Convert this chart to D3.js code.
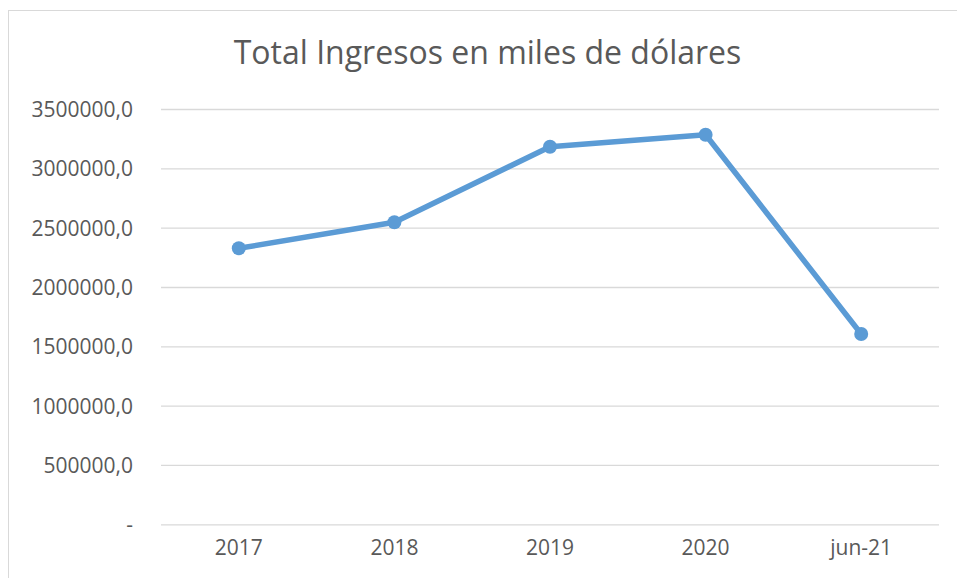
<!DOCTYPE html>
<html>
<head>
<meta charset="utf-8">
<script src="https://cdn.jsdelivr.net/npm/d3@7"></script>
<style>
  html, body { margin: 0; padding: 0; background: #fff; }
  svg { display: block; }
</style>
</head>
<body>
<svg id="chart" width="957" height="578"></svg>
<script>
const categories = ["2017", "2018", "2019", "2020", "jun-21"];
const values = [2326000, 2545000, 3182000, 3283000, 1604000];
const yTicks = [0, 500000, 1000000, 1500000, 2000000, 2500000, 3000000, 3500000];
const title = "Total Ingresos en miles de dólares";

const svg = d3.select("#chart");
const W = 957, H = 578;
const margin = { left: 161, right: 18, top: 109, bottom: 53.7 };
const fontFam = "'Open Sans', 'Noto Sans', sans-serif";
const textColor = "#595959";

// outer border
svg.append("rect")
  .attr("x", 8.5).attr("y", 10.5)
  .attr("width", W - 8.5 + 5).attr("height", H)
  .attr("fill", "#fff").attr("stroke", "#d9d9d9").attr("stroke-width", 1);

const x = d3.scaleBand().domain(categories).range([margin.left, W - margin.right]);
const y = d3.scaleLinear().domain([0, 3500000]).range([H - margin.bottom, margin.top]);

// gridlines
const yAxis = d3.axisLeft(y).tickValues(yTicks)
  .tickSize(-(W - margin.right - margin.left))
  .tickPadding(28)
  .tickFormat(d => d === 0 ? "-" : d3.format(".1f")(d).replace(".", ","));
const gy = svg.append("g").attr("transform", `translate(${margin.left},0)`).call(yAxis);
gy.select(".domain").remove();
gy.selectAll(".tick line").attr("stroke", "#d9d9d9").attr("stroke-width", 1.3);
gy.selectAll(".tick text")
  .attr("fill", textColor)
  .style("font-family", fontFam)
  .style("font-size", "21px")
  .attr("dy", "0.35em");

// x axis labels
const xAxis = d3.axisBottom(x).tickSize(0).tickPadding(16);
const gx = svg.append("g").attr("transform", `translate(0,${H - margin.bottom})`).call(xAxis);
gx.select(".domain").remove();
gx.selectAll(".tick text")
  .attr("fill", textColor)
  .style("font-family", fontFam)
  .style("font-size", "21px");

// line
const data = categories.map((c, i) => ({ c, v: values[i] }));
const line = d3.line().x(d => x(d.c) + x.bandwidth() / 2).y(d => y(d.v));
svg.append("path")
  .datum(data)
  .attr("d", line)
  .attr("fill", "none")
  .attr("stroke", "#5b9bd5")
  .attr("stroke-width", 5.5)
  .attr("stroke-linejoin", "round");

svg.selectAll("circle.pt")
  .data(data)
  .enter().append("circle")
  .attr("class", "pt")
  .attr("cx", d => x(d.c) + x.bandwidth() / 2)
  .attr("cy", d => y(d.v))
  .attr("r", 7)
  .attr("fill", "#5b9bd5");

// title
svg.append("text")
  .attr("x", 487.5).attr("y", 64)
  .attr("text-anchor", "middle")
  .attr("fill", textColor)
  .style("font-family", fontFam)
  .style("font-size", "32px")
  .text(title);
</script>
</body>
</html>
